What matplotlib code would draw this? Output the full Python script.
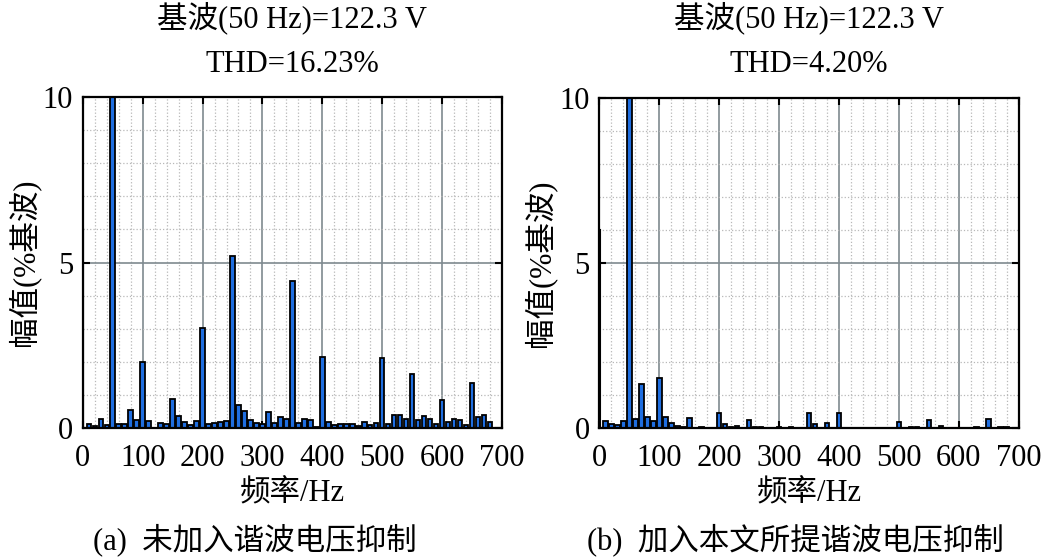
import numpy as np
import matplotlib.pyplot as plt
from matplotlib.ticker import MultipleLocator

plt.rcParams['font.family'] = ['Liberation Serif', 'Noto Sans CJK SC', 'DejaVu Sans']

# harmonic spectrum, 10 Hz bins from 10 to 690 Hz (% of fundamental)
freq = np.arange(10, 700, 10)
dc_a = 6.0
dc_b = 6.0
amp_a = [0.12, 0.06, 0.28, 0.10, 100, 0.12, 0.12, 0.56, 0.26, 2.00,
         0.22, 0.02, 0.17, 0.12, 0.89, 0.37, 0.19, 0.09, 0.21, 3.02,
         0.12, 0.16, 0.19, 0.22, 5.20, 0.71, 0.52, 0.26, 0.17, 0.14,
         0.49, 0.16, 0.34, 0.28, 4.45, 0.16, 0.29, 0.26, 0.04, 2.15,
         0.19, 0.10, 0.14, 0.14, 0.12, 0.06, 0.19, 0.10, 0.16, 2.12,
         0.14, 0.41, 0.41, 0.28, 1.65, 0.26, 0.36, 0.27, 0.14, 0.85,
         0.19, 0.27, 0.24, 0.10, 1.38, 0.34, 0.39, 0.20, 0.02]
amp_b = [0.22, 0.12, 0.09, 0.22, 100, 0.27, 1.34, 0.35, 0.22, 1.54,
         0.35, 0.15, 0.07, 0.04, 0.30, 0.01, 0.04, 0.02, 0.02, 0.46,
         0.12, 0.03, 0.07, 0.02, 0.25, 0.05, 0.05, 0.02, 0.02, 0.04,
         0.02, 0.04, 0.02, 0.02, 0.46, 0.12, 0.02, 0.17, 0.02, 0.46,
         0.02, 0.01, 0.01, 0.01, 0.01, 0.01, 0.02, 0.01, 0.02, 0.20,
         0.02, 0.05, 0.05, 0.02, 0.24, 0.02, 0.07, 0.01, 0.01, 0.02,
         0.01, 0.02, 0.05, 0.02, 0.29, 0.01, 0.03, 0.05, 0.01]

fund_txt = '基波(50 Hz)=122.3 V'
thd_txt = ['THD=16.23%', 'THD=4.20%']
captions = ['(a)  未加入谐波电压抑制', '(b)  加入本文所提谐波电压抑制']
xticks = [0, 100, 200, 300, 400, 500, 600, 700]
yticks = [0, 5, 10]

fig = plt.figure(figsize=(10.48, 5.6), dpi=100)
boxes = [[0.079, 0.235, 0.400, 0.592], [0.572, 0.235, 0.400, 0.590]]
cap_x = [0.243, 0.759]
bar_col = '#1f6ee0'
fs = 22

for i, (amp, dc) in enumerate([(amp_a, dc_a), (amp_b, dc_b)]):
    ax = fig.add_axes(boxes[i])
    ax.bar([0], [dc], width=2.0, color=bar_col, edgecolor='black', linewidth=1.5, zorder=3)
    ax.bar(freq, amp, width=7.5, color=bar_col, edgecolor='black', linewidth=1.3, zorder=3)
    ax.set_xlim(0, 700)
    ax.set_ylim(0, 10)
    ax.set_xticks(xticks)
    ax.set_yticks(yticks)
    ax.xaxis.set_minor_locator(MultipleLocator(20))
    ax.yaxis.set_minor_locator(MultipleLocator(1))
    ax.grid(which='major', color='#7f8a8f', linewidth=1.2, linestyle='-', zorder=0)
    ax.grid(which='minor', color='#b8b8b8', linewidth=0.9, linestyle=':', zorder=0)
    ax.tick_params(which='major', direction='in', top=True, right=True,
                   length=5, width=1.5, labelsize=fs, pad=7)
    ax.tick_params(axis='x', which='major', pad=11)
    ax.tick_params(which='minor', length=0)
    for s in ax.spines.values():
        s.set_linewidth(1.6)
        s.set_zorder(4)
    ax.set_xlabel('频率/Hz', fontsize=fs, labelpad=5)
    ax.set_ylabel('幅值(%基波)', fontsize=fs, labelpad=2)
    xc = boxes[i][0] + boxes[i][2] / 2
    fig.text(xc, 0.968, fund_txt, ha='center', va='center', fontsize=fs)
    fig.text(xc, 0.884, thd_txt[i], ha='center', va='center', fontsize=fs)
    fig.text(cap_x[i], 0.036, captions[i], ha='center', va='center', fontsize=fs)

fig.savefig('out.png', dpi=100)
